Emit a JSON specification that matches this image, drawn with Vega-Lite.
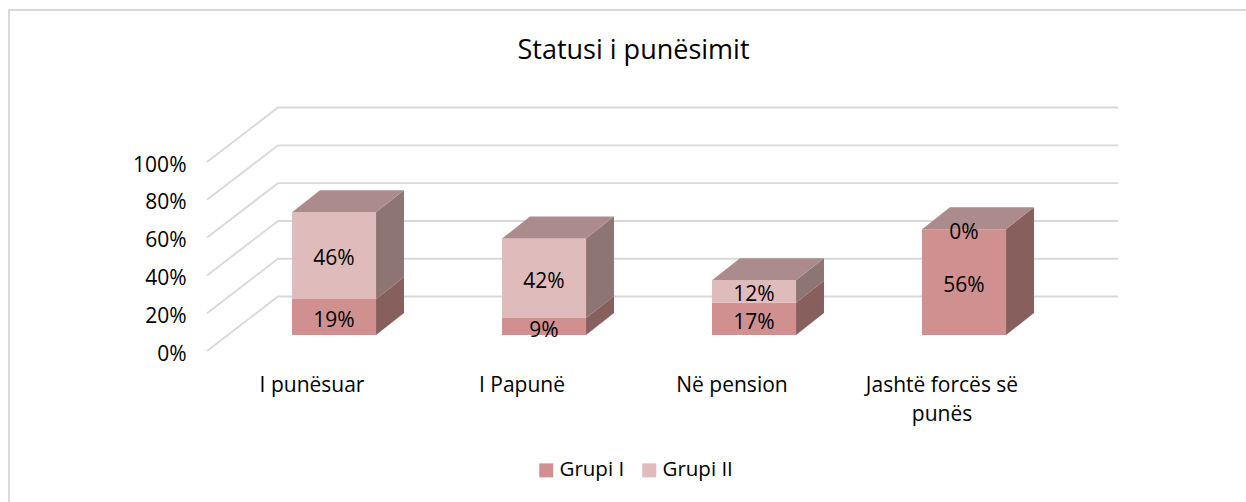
{
"$schema":"https://vega.github.io/schema/vega-lite/v6.json",
"width":1237,"height":492,
"padding":{"left":9,"top":10,"right":0,"bottom":0},
"autosize":{"type":"none"},
"background":"white",
"config":{"view":{"stroke":null},"font":"Open Sans","text":{"font":"Open Sans"}},
"title":{"text":"Statusi i punësimit","font":"Open Sans","fontSize":27,"fontWeight":"normal","color":"#000000","anchor":"middle","frame":"group","dx":6,"dy":84,"baseline":"alphabetic"},
"datasets":{
"walls":[
{"line":"frame","n":1,"x":-0.943,"pct":-79.9},{"line":"frame","n":2,"x":-0.943,"pct":180.4},{"line":"frame","n":3,"x":5.0,"pct":180.4},
{"line":"g0","n":1,"x":0,"pct":0},{"line":"g0","n":2,"x":0.338,"pct":28.8},{"line":"g0","n":3,"x":4.338,"pct":28.8},
{"line":"g20","n":1,"x":0,"pct":20},{"line":"g20","n":2,"x":0.338,"pct":48.8},{"line":"g20","n":3,"x":4.338,"pct":48.8},
{"line":"g40","n":1,"x":0,"pct":40},{"line":"g40","n":2,"x":0.338,"pct":68.8},{"line":"g40","n":3,"x":4.338,"pct":68.8},
{"line":"g60","n":1,"x":0,"pct":60},{"line":"g60","n":2,"x":0.338,"pct":88.8},{"line":"g60","n":3,"x":4.338,"pct":88.8},
{"line":"g80","n":1,"x":0,"pct":80},{"line":"g80","n":2,"x":0.338,"pct":108.8},{"line":"g80","n":3,"x":4.338,"pct":108.8},
{"line":"g100","n":1,"x":0,"pct":100},{"line":"g100","n":2,"x":0.338,"pct":128.8},{"line":"g100","n":3,"x":4.338,"pct":128.8}
],
"bars":[
{"category":"I punësuar","series":"Grupi I","value":19,"label":"19%","low":0,"high":19,"mid":8.5},
{"category":"I punësuar","series":"Grupi II","value":46,"label":"46%","low":19,"high":65,"mid":41.5},
{"category":"I Papunë","series":"Grupi I","value":9,"label":"9%","low":0,"high":9,"mid":3.2},
{"category":"I Papunë","series":"Grupi II","value":42,"label":"42%","low":9,"high":51,"mid":29},
{"category":"Në pension","series":"Grupi I","value":17,"label":"17%","low":0,"high":17,"mid":7.3},
{"category":"Në pension","series":"Grupi II","value":12,"label":"12%","low":17,"high":29,"mid":22},
{"category":"Jashtë forcës së punës","series":"Grupi I","value":56,"label":"56%","low":0,"high":56,"mid":27},
{"category":"Jashtë forcës së punës","series":"Grupi II","value":0,"label":"0%","low":56,"high":56,"mid":55}
],
"sideI":[
{"bar":"a","x":0.805,"low":0,"high":19},{"bar":"a","x":0.938,"low":11.64,"high":30.64},
{"bar":"b","x":1.805,"low":0,"high":9},{"bar":"b","x":1.938,"low":11.64,"high":20.64},
{"bar":"c","x":2.805,"low":0,"high":17},{"bar":"c","x":2.938,"low":11.64,"high":28.64},
{"bar":"d","x":3.805,"low":0,"high":56},{"bar":"d","x":3.938,"low":11.64,"high":67.64}
],
"sideII":[
{"bar":"a","x":0.805,"low":19,"high":65},{"bar":"a","x":0.938,"low":30.64,"high":76.64},
{"bar":"b","x":1.805,"low":9,"high":51},{"bar":"b","x":1.938,"low":20.64,"high":62.64},
{"bar":"c","x":2.805,"low":17,"high":29},{"bar":"c","x":2.938,"low":28.64,"high":40.64}
],
"tops":[
{"bar":"a","x":0.405,"low":65,"high":65},{"bar":"a","x":0.538,"low":65,"high":76.64},{"bar":"a","x":0.805,"low":65,"high":76.64},{"bar":"a","x":0.938,"low":76.64,"high":76.64},
{"bar":"b","x":1.405,"low":51,"high":51},{"bar":"b","x":1.538,"low":51,"high":62.64},{"bar":"b","x":1.805,"low":51,"high":62.64},{"bar":"b","x":1.938,"low":62.64,"high":62.64},
{"bar":"c","x":2.405,"low":29,"high":29},{"bar":"c","x":2.538,"low":29,"high":40.64},{"bar":"c","x":2.805,"low":29,"high":40.64},{"bar":"c","x":2.938,"low":40.64,"high":40.64},
{"bar":"d","x":3.405,"low":56,"high":56},{"bar":"d","x":3.538,"low":56,"high":67.64},{"bar":"d","x":3.805,"low":56,"high":67.64},{"bar":"d","x":3.938,"low":67.64,"high":67.64}
]
},
"layer":[
{"data":{"name":"walls"},
 "mark":{"type":"line","stroke":"#D9D9D9","strokeWidth":1.9},
 "encoding":{
  "x":{"field":"x","type":"quantitative","scale":{"domain":[0,4],"range":[198,1038],"nice":false,"zero":false},"axis":null},
  "y":{"field":"pct","type":"quantitative","title":null,"scale":{"domain":[0,100],"range":[341,152],"nice":false,"zero":false},
    "axis":{"values":[0,20,40,60,80,100],"labelExpr":"datum.value + '%'","domain":false,"ticks":false,"grid":false,"offset":-177,"labelPadding":0,"labelFont":"Open Sans","labelFontSize":21,"labelColor":"#000000","labelOffset":3,"title":null}},
  "detail":{"field":"line"},
  "order":{"field":"n"}
 }},
{"data":{"name":"bars"},
 "mark":{"type":"bar","xOffset":22,"x2Offset":22,"yOffset":-16,"y2Offset":-16},
 "encoding":{
  "x":{"field":"category","type":"nominal","sort":null,"scale":{"type":"band","domain":["I punësuar","I Papunë","Në pension","Jashtë forcës së punës"],"range":[198,1038],"paddingInner":0.6,"paddingOuter":0.3},
    "axis":{"title":null,"domain":false,"ticks":false,"grid":false,"labelAngle":0,"labelFont":"Open Sans","labelFontSize":21,"labelColor":"#000000","offset":-128,"labelPadding":0,"labelLineHeight":29,"labelLimit":400,"labelExpr":"datum.value === 'Jashtë forcës së punës' ? ['Jashtë forcës së','punës'] : datum.value"}},
  "y":{"field":"low","type":"quantitative","title":null,"scale":{"domain":[0,100],"range":[341,152],"nice":false,"zero":false}},
  "y2":{"field":"high"},
  "color":{"field":"series","type":"nominal","scale":{"domain":["Grupi I","Grupi II"],"range":["#D09090","#E0BBBB"]},
    "legend":{"title":null,"orient":"none","legendX":527,"legendY":450,"direction":"horizontal","symbolType":"square","symbolSize":196,"labelFont":"Open Sans","labelFontSize":20.5,"labelColor":"#000000","columnPadding":14,"labelOffset":3,"padding":0}}
 }},
{"data":{"name":"sideI"},
 "mark":{"type":"area","color":"#875F5D","yOffset":-16,"y2Offset":-16},
 "encoding":{
  "x":{"field":"x","type":"quantitative","scale":{"domain":[0,4],"range":[198,1038],"nice":false,"zero":false},"axis":null},
  "y":{"field":"low","type":"quantitative","title":null,"scale":{"domain":[0,100],"range":[341,152],"nice":false,"zero":false}},
  "y2":{"field":"high"},
  "detail":{"field":"bar"}
 }},
{"data":{"name":"sideII"},
 "mark":{"type":"area","color":"#8D7573","yOffset":-16,"y2Offset":-16},
 "encoding":{
  "x":{"field":"x","type":"quantitative","scale":{"domain":[0,4],"range":[198,1038],"nice":false,"zero":false},"axis":null},
  "y":{"field":"low","type":"quantitative","title":null,"scale":{"domain":[0,100],"range":[341,152],"nice":false,"zero":false}},
  "y2":{"field":"high"},
  "detail":{"field":"bar"}
 }},
{"data":{"name":"tops"},
 "mark":{"type":"area","color":"#AB8B8B","yOffset":-16,"y2Offset":-16},
 "encoding":{
  "x":{"field":"x","type":"quantitative","scale":{"domain":[0,4],"range":[198,1038],"nice":false,"zero":false},"axis":null},
  "y":{"field":"low","type":"quantitative","title":null,"scale":{"domain":[0,100],"range":[341,152],"nice":false,"zero":false}},
  "y2":{"field":"high"},
  "detail":{"field":"bar"}
 }},
{"data":{"name":"bars"},
 "mark":{"type":"text","xOffset":22,"yOffset":-14,"font":"Open Sans","fontSize":21,"color":"#000000","baseline":"middle"},
 "encoding":{
  "x":{"field":"category","type":"nominal","sort":null,"scale":{"type":"band","domain":["I punësuar","I Papunë","Në pension","Jashtë forcës së punës"],"range":[198,1038],"paddingInner":0.6,"paddingOuter":0.3},"axis":null},
  "y":{"field":"mid","type":"quantitative","title":null,"scale":{"domain":[0,100],"range":[341,152],"nice":false,"zero":false}},
  "text":{"field":"label"}
 }}
],
"resolve":{"scale":{"x":"independent"},"axis":{"x":"independent"}}
}
